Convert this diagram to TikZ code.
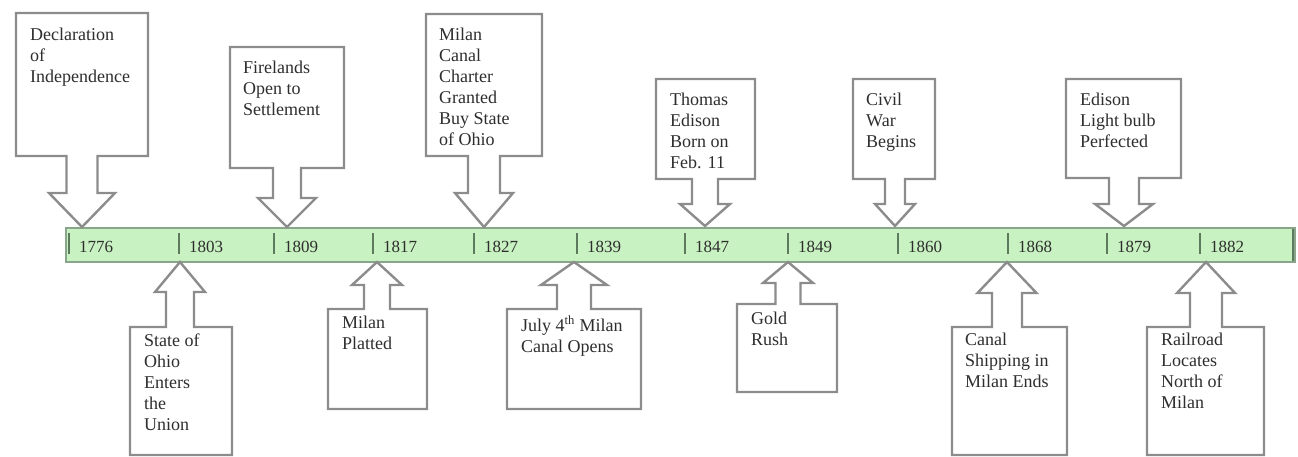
\documentclass[tikz,border=0pt]{standalone}
\usepackage{fontspec}
\setmainfont{Liberation Serif}
\newfontfamily\tnr{Liberation Serif}
\definecolor{barfill}{HTML}{C9F2C2}
\definecolor{barline}{HTML}{8AA68A}
\definecolor{tickcol}{HTML}{5E7A5E}
\definecolor{boxline}{HTML}{8C8C8C}
\definecolor{txt}{HTML}{2E2E2E}
\tikzset{
  callout/.style={draw=boxline, line width=2.4pt, fill=white, line join=miter},
  lbl/.style={anchor=north west, inner sep=0pt, align=left, text=txt, font=\tnr\fontsize{18}{21}\selectfont},
  yr/.style={anchor=base west, inner sep=0pt, text=txt, font=\tnr\fontsize{17}{20}\selectfont},
  tick/.style={draw=tickcol, line width=2pt}
}
% #1 L, #2 far edge, #3 R, #4 near edge, #5 cx, #6 shaft half, #7 head base y, #8 head half, #9 tip y
\newcommand\callout[9]{%
  \draw[callout] (#1,#2) -- (#3,#2) -- (#3,#4) -- (#5+#6,#4) -- (#5+#6,#7) -- (#5+#8,#7)
    -- (#5,#9) -- (#5-#8,#7) -- (#5-#6,#7) -- (#5-#6,#4) -- (#1,#4) -- cycle;}
\begin{document}
\begin{tikzpicture}[x=1pt,y=-1pt]
\useasboundingbox (0,0) rectangle (1298,457);
% timeline bar
\draw[fill=barfill, draw=barline, line width=2pt] (66,228) rectangle (1295,262);
\foreach \t/\y/\n in {69/1776/a,179/1803/b,274/1809/c,373/1817/d,474/1827/e,577/1839/f,685/1847/g,788/1849/h,898/1860/i,1008/1868/j,1107/1879/k,1200/1882/l}{
  \draw[tick] (\t,233) -- (\t,254);
  \node[yr] (y\n) at (\t+10,252) {\y};
}
\draw[tick] (1293,229) -- (1293,261);
% callouts above
\callout{16}{13}{148}{156}{82}{15.5}{193}{33}{227}
\node[lbl] (decl) at (30,28) {Declaration\\of\\Independence};
\callout{230}{47}{344}{168}{287}{14}{198}{29}{227}
\node[lbl] (fire) at (243,61) {Firelands\\Open to\\Settlement};
\callout{426}{14}{542}{156}{484}{16}{193}{29}{227}
\node[lbl] (chart) at (439,28) {Milan\\Canal\\Charter\\Granted\\Buy State\\of Ohio};
\callout{656}{79}{755}{179}{705}{13}{204}{25}{226}
\node[lbl] (edis) at (670,93) {Thomas\\Edison\\Born on\\Feb. 11};
\callout{853}{79}{935}{179}{895}{10}{204}{20}{226}
\node[lbl] (civ) at (866,93) {Civil\\War\\Begins};
\callout{1066}{79}{1181}{178}{1124}{15}{204}{29}{226}
\node[lbl] (bulb) at (1080,93) {Edison\\Light bulb\\Perfected};
% callouts below
\callout{130}{455}{232}{327}{180}{14}{292}{25}{262}
\node[lbl] (ohio) at (144,334) {State of\\Ohio\\Enters\\the\\Union};
\callout{328}{409}{427}{309}{377}{13}{285}{25}{262}
\node[lbl] (plat) at (342,316) {Milan\\Platted};
\callout{507}{409}{641}{309}{574}{17}{285}{33}{262}
\node[lbl] (july) at (521,316) {July 4\textsuperscript{th} Milan\\Canal Opens};
\callout{737}{392}{837}{304}{788}{12.5}{283}{25}{262}
\node[lbl] (gold) at (751,312) {Gold\\Rush};
\callout{952}{455}{1067}{327}{1007}{15}{293}{29.5}{262}
\node[lbl] (ship) at (965,333) {Canal\\Shipping in\\Milan Ends};
\callout{1147}{455}{1264}{327}{1206}{16}{293}{29}{262}
\node[lbl] (rail) at (1161,333) {Railroad\\Locates\\North of\\Milan};
\end{tikzpicture}
\end{document}
